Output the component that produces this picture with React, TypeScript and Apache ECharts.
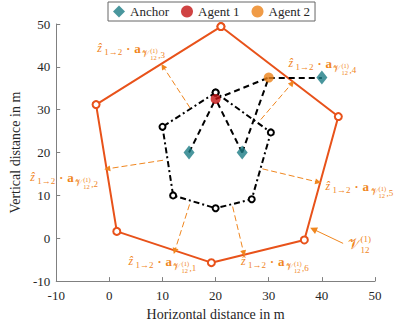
import React, { useEffect, useRef } from "react";
import * as echarts from "echarts";

const X_TICKS = [-10, 0, 10, 20, 30, 40, 50];
const Y_TICKS = [-10, 0, 10, 20, 30, 40, 50];

const ANCHORS = [
  [15, 20],
  [25, 20],
  [40, 37.5],
];
const AGENT1 = [[20, 32.5]];
const AGENT2 = [[30, 37.5]];

// region V_12^(1) (outer polygon)
const REGION = [
  [21, 49.4],
  [-2.5, 31.2],
  [1.4, 1.6],
  [19.2, -5.7],
  [36.7, -0.4],
  [43.1, 28.4],
];
// inner polygon
const INNER = [
  [20, 34],
  [10, 26],
  [12, 10],
  [20, 7],
  [26.8, 9.1],
  [30.4, 24.7],
];
// measurement links
const LINKS = [
  [[15, 20], [20, 32.5]],
  [[25, 20], [20, 32.5]],
  [[20, 32.5], [30, 37.5]],
  [[25, 20], [30, 37.5]],
  [[30, 37.5], [40, 37.5]],
];
// scaled normal arrows
const ARROWS = [
  [[15.1, 7.9], [12.3, -3.0]],
  [[10.1, 18.2], [-0.4, 16.2]],
  [[15.2, 30.4], [10.1, 40.1]],
  [[28.5, 27.7], [34.4, 36.2]],
  [[28.8, 16.2], [39.3, 13.1]],
  [[23.2, 7.4], [25.3, -3.5]],
];
const REGION_ARROW = [[[44, -1.2], [38.4, 2.1]]];

// label anchors: [x, y, index]
const LABELS = [
  [3.6, -5.3, 1],
  [-14.9, 14.4, 2],
  [-2.3, 44.4, 3],
  [33.7, 40.9, 4],
  [40.7, 12.3, 5],
  [24.8, -5.3, 6],
];
const REGION_LABEL = [[45, -1.4]];

const FONT = '"Liberation Serif", "DejaVu Serif", serif';
const LABEL_COLOR = "#f0861e";
const REGION_COLOR = "#e8521a";
const ANCHOR_COLOR = "#1b7c85";
const AGENT1_COLOR = "#c41414";
const AGENT2_COLOR = "#ec8218";

function closed(arr: number[][]) {
  return [...arr, arr[0]];
}

function txt(x: number, y: number, text: string, size: number, opts: any = {}) {
  return {
    type: "text",
    x,
    y,
    silent: true,
    style: {
      text,
      fontSize: size,
      fontFamily: FONT,
      fontStyle: opts.italic ? "italic" : "normal",
      fontWeight: opts.bold ? "bold" : "normal",
      fill: LABEL_COLOR,
      align: "left",
      verticalAlign: "middle",
    },
  };
}

export default function App() {
  const ref = useRef<HTMLDivElement>(null);
  useEffect(() => {
    if (!ref.current) return;
    const chart = echarts.init(ref.current, null, { renderer: "svg" });
    const axisCommon = {
      type: "value",
      min: -10,
      max: 50,
      interval: 10,
      nameLocation: "middle",
      nameTextStyle: { fontFamily: FONT, fontSize: 14, color: "#262626" },
      axisLine: { show: true, onZero: false, lineStyle: { color: "#808080", width: 1 } },
      axisTick: { show: true, inside: true, length: 4, lineStyle: { color: "#808080" } },
      axisLabel: { fontFamily: FONT, fontSize: 13, color: "#262626" },
      splitLine: { show: false },
    };
    chart.setOption({
      animation: false,
      backgroundColor: "#ffffff",
      grid: { left: 54, right: 40, top: 24, bottom: 43 },
      xAxis: {
        ...axisCommon,
        name: "Horizontal distance in m",
        nameGap: 24,
        axisLabel: { ...axisCommon.axisLabel, margin: 8, formatter: (v: number) => (X_TICKS.includes(v) ? String(v) : "") },
      },
      yAxis: {
        ...axisCommon,
        name: "Vertical distance in m",
        nameGap: 32,
        axisLabel: { ...axisCommon.axisLabel, margin: 6, formatter: (v: number) => (Y_TICKS.includes(v) ? String(v) : "") },
      },
      legend: {
        data: ["Anchor", "Agent 1", "Agent 2"],
        left: 108,
        top: 2,
        itemGap: 12,
        itemWidth: 12,
        itemHeight: 12,
        padding: [3, 5, 3, 5],
        borderColor: "#666666",
        borderWidth: 1,
        backgroundColor: "#ffffff",
        textStyle: { fontFamily: FONT, fontSize: 13, color: "#262626" },
      },
      series: [
        {
          type: "line",
          name: "region",
          data: closed(REGION),
          symbol: "emptyCircle",
          symbolSize: 7,
          itemStyle: { color: REGION_COLOR, borderWidth: 1.5 },
          lineStyle: { color: REGION_COLOR, width: 2 },
          z: 2,
        },
        {
          type: "lines",
          name: "arrows",
          coordinateSystem: "cartesian2d",
          data: ARROWS.map((c) => ({ coords: c })),
          symbol: ["none", "triangle"],
          symbolSize: 6,
          lineStyle: { color: LABEL_COLOR, width: 1, type: [6, 3], opacity: 1 },
          z: 3,
        },
        {
          type: "lines",
          name: "regionArrow",
          coordinateSystem: "cartesian2d",
          data: REGION_ARROW.map((c) => ({ coords: c })),
          symbol: ["none", "triangle"],
          symbolSize: 7,
          lineStyle: { color: LABEL_COLOR, width: 1, type: "solid", opacity: 1 },
          z: 3,
        },
        {
          type: "line",
          name: "inner",
          data: closed(INNER),
          symbol: "emptyCircle",
          symbolSize: 6,
          itemStyle: { color: "#000000", borderWidth: 2 },
          lineStyle: { color: "#000000", width: 2, type: [6, 3, 2, 3] },
          z: 4,
        },
        {
          type: "lines",
          name: "links",
          coordinateSystem: "cartesian2d",
          data: LINKS.map((c) => ({ coords: c })),
          lineStyle: { color: "#000000", width: 2, type: [6, 4], opacity: 1 },
          z: 4,
        },
        {
          type: "scatter",
          name: "Anchor",
          data: ANCHORS,
          symbol: "diamond",
          symbolSize: [11, 14],
          itemStyle: { color: ANCHOR_COLOR },
          z: 6,
        },
        {
          type: "scatter",
          name: "Agent 1",
          data: AGENT1,
          symbol: "circle",
          symbolSize: 10,
          itemStyle: { color: AGENT1_COLOR },
          z: 6,
        },
        {
          type: "scatter",
          name: "Agent 2",
          data: AGENT2,
          symbol: "circle",
          symbolSize: 10,
          itemStyle: { color: AGENT2_COLOR },
          z: 6,
        },
        {
          type: "custom",
          name: "labels",
          clip: false,
          silent: true,
          data: LABELS,
          encode: { x: 0, y: 1 },
          z: 7,
          renderItem: (params: any, api: any) => {
            const p = api.coord([api.value(0), api.value(1)]);
            const idx = api.value(2);
            const x0 = p[0];
            const y0 = p[1];
            return {
              type: "group",
              children: [
                txt(x0, y0, "ẑ", 12, { italic: true }),
                txt(x0 + 7, y0 + 4, "1→2", 9),
                txt(x0 + 29, y0 + 1, "·", 12, { bold: true }),
                txt(x0 + 37, y0 + 1, "a", 13, { bold: true }),
                txt(x0 + 45, y0 + 6, "𝒱", 9),
                txt(x0 + 53, y0 + 3, "(1)", 6.5),
                txt(x0 + 53, y0 + 10, "12", 6.5),
                txt(x0 + 61, y0 + 7, "," + idx, 9),
              ],
            };
          },
        },
        {
          type: "custom",
          name: "regionLabel",
          clip: false,
          silent: true,
          data: REGION_LABEL,
          encode: { x: 0, y: 1 },
          z: 7,
          renderItem: (params: any, api: any) => {
            const p = api.coord([api.value(0), api.value(1)]);
            const x0 = p[0];
            const y0 = p[1];
            return {
              type: "group",
              children: [
                txt(x0, y0, "𝒱", 15),
                txt(x0 + 12, y0 - 5, "(1)", 9),
                txt(x0 + 12, y0 + 6, "12", 9),
              ],
            };
          },
        },
      ],
    });
    return () => chart.dispose();
  }, []);
  return (
    <div
      ref={ref}
      style={{ position: "fixed", left: 0, top: 0, width: 415, height: 326 }}
    />
  );
}
